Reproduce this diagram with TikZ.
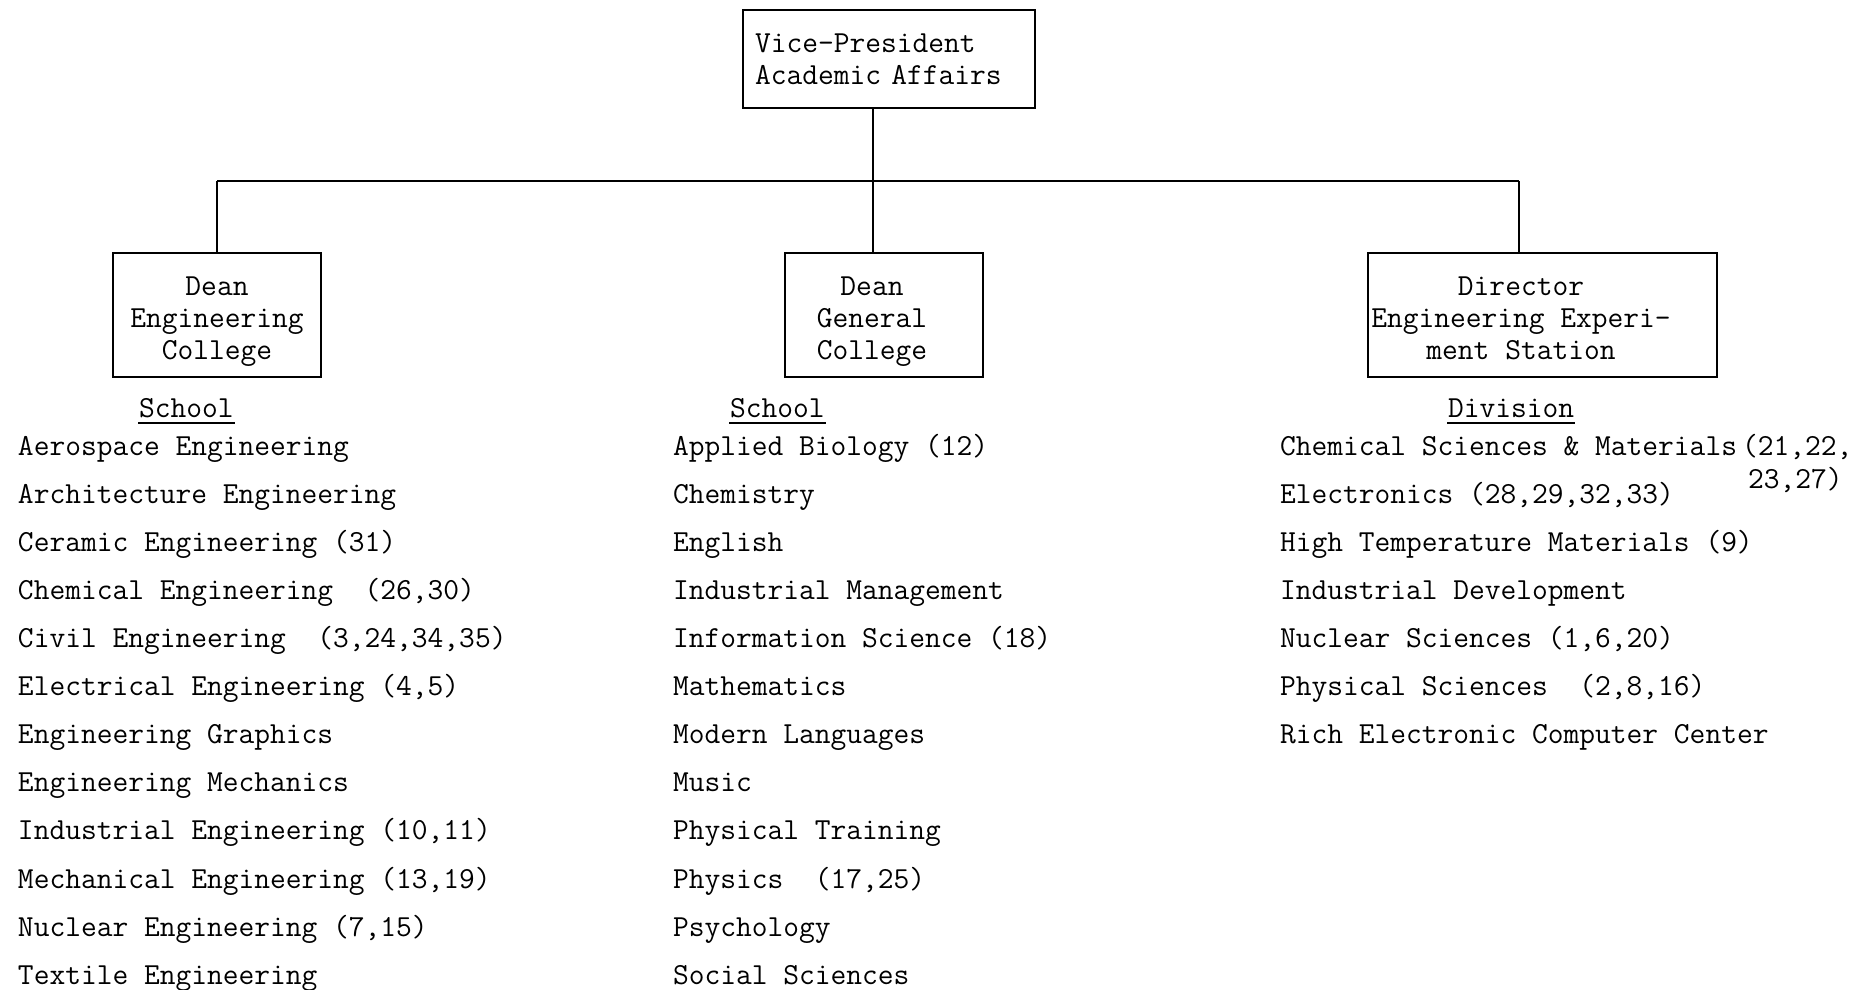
\documentclass[tikz,border=0pt]{standalone}
\usepackage{tikz}

\begin{document}
\begin{tikzpicture}[x=0.5pt,y=-0.5pt,line width=1pt,
	every node/.style={inner sep=0pt,font=\fontsize{15.3}{16}\selectfont\ttfamily},
	box/.style={draw,rectangle,anchor=north west,minimum height=62pt},
	boxtext/.style={align=center,anchor=north},
	entry/.style={anchor=base west}]
	\useasboundingbox (0,0) rectangle (1870,990);

	\node[box,align=left,text width=134pt,inner xsep=6pt,minimum height=49pt](vp) at (742,9){Vice-President\\Academic Affairs};
	\node[box,minimum width=104pt](engbox) at (112,252){};
	\node[box,minimum width=99pt](genbox) at (784,252){};
	\node[box,minimum width=174.5pt](eesbox) at (1367,252){};

	\node[boxtext](eng) at (217,276){Dean\\Engineering\\College};
	\node[boxtext](gen) at (872,276){Dean\\General\\College};
	\node[boxtext](ees) at (1521,276){Director\\Engineering Experi-\\ment Station};

	\coordinate (barL) at (217,181);
	\coordinate (barM) at (873,181);
	\coordinate (barR) at (1519,181);
	\draw (barL) -- (barR);
	\draw (vp.south -| barM) -- (genbox.north -| barM);
	\draw (barL) -- (engbox.north -| barL);
	\draw (barR) -- (eesbox.north -| barR);

	\node[entry](hdeng) at (138,417){School};
	\node[entry](hdgen) at (729,417){School};
	\node[entry](hdees) at (1447,417){Division};
	\foreach \h in {hdeng,hdgen,hdees}
		\draw ([yshift=-3pt]\h.base west) -- ([yshift=-3pt]\h.base east);

	\foreach \t [count=\i] in {Aerospace Engineering, Architecture Engineering,
		{Ceramic Engineering (31)}, {Chemical Engineering\ \ (26,30)},
		{Civil Engineering\ \ (3,24,34,35)}, {Electrical Engineering (4,5)},
		Engineering Graphics, Engineering Mechanics,
		{Industrial Engineering (10,11)}, {Mechanical Engineering (13,19)},
		{Nuclear Engineering (7,15)}, Textile Engineering}
		\node[entry](eng\i) at (17,{407+48.1*\i}){\t};

	\foreach \t [count=\i] in {{Applied Biology (12)}, Chemistry, English,
		Industrial Management, {Information Science (18)}, Mathematics,
		Modern Languages, Music, Physical Training, {Physics\ \ (17,25)},
		Psychology, Social Sciences}
		\node[entry](gen\i) at (672,{407+48.1*\i}){\t};

	\foreach \t [count=\i] in {{Chemical Sciences \& Materials\,(21,22,},
		{Electronics (28,29,32,33)}, {High Temperature Materials (9)},
		Industrial Development, {Nuclear Sciences (1,6,20)},
		{Physical Sciences\ \ (2,8,16)}, Rich Electronic Computer Center}
		\node[entry](ees\i) at (1279,{407+48.1*\i}){\t};
	\node[entry](ees1b) at (1747,488){23,27)};
\end{tikzpicture}
\end{document}
